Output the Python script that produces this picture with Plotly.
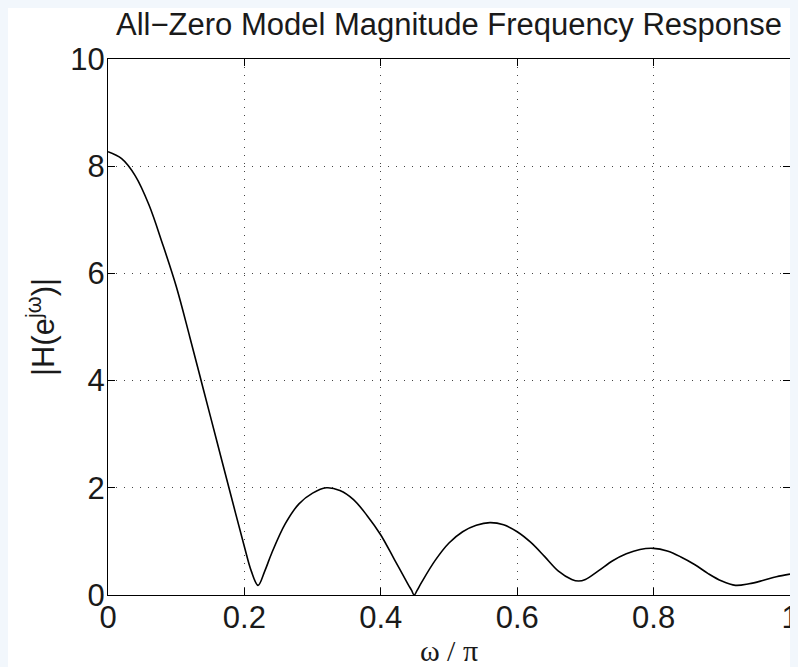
import plotly.graph_objects as go

# Normalized frequency (omega / pi) and magnitude |H(e^{jw})|
omega = [0.00, 0.02, 0.04, 0.06, 0.08, 0.10, 0.12, 0.14, 0.16, 0.18,
         0.20, 0.21, 0.22, 0.23, 0.24, 0.26, 0.28, 0.30, 0.32, 0.34,
         0.36, 0.38, 0.40, 0.42, 0.44, 0.445, 0.449, 0.453, 0.46, 0.48,
         0.50, 0.52, 0.54, 0.56, 0.58, 0.60, 0.62, 0.64, 0.66, 0.68,
         0.69, 0.70, 0.72, 0.74, 0.76, 0.78, 0.80, 0.82, 0.84, 0.86,
         0.88, 0.90, 0.92, 0.94, 0.96, 0.98, 1.00]
magnitude = [8.27, 8.14, 7.82, 7.28, 6.55, 5.76, 4.81, 3.83, 2.85, 1.87,
             0.90, 0.45, 0.18, 0.45, 0.78, 1.33, 1.70, 1.90, 2.00, 1.95,
             1.78, 1.48, 1.12, 0.66, 0.20, 0.09, 0.00, 0.08, 0.24, 0.65,
             0.97, 1.18, 1.30, 1.35, 1.31, 1.18, 0.98, 0.72, 0.45, 0.29,
             0.26, 0.29, 0.46, 0.64, 0.77, 0.85, 0.87, 0.82, 0.71, 0.57,
             0.40, 0.26, 0.18, 0.21, 0.27, 0.34, 0.39]

x_ticks = [0, 0.2, 0.4, 0.6, 0.8, 1]
x_tick_labels = ["0", "0.2", "0.4", "0.6", "0.8", "1"]
y_ticks = [0, 2, 4, 6, 8, 10]
y_tick_labels = ["0", "2", "4", "6", "8", "10"]

title_text = "All\u2212Zero Model Magnitude Frequency Response"
x_label = "\u03c9 / \u03c0"
y_label = "|H(e<sup>j\u03c9</sup>)|"

SANS = "Liberation Sans, Arial, Helvetica, sans-serif"
SERIF = "Liberation Serif, Times New Roman, serif"
TEXT = "#1a1a1a"
PAGE_BG = "#F2F7FC"

FIG_W, FIG_H = 790, 659

fig = go.Figure()
fig.add_trace(go.Scatter(
    x=omega, y=magnitude, mode="lines",
    line=dict(color="black", width=1.6, shape="spline", smoothing=1.0),
    hoverinfo="skip", showlegend=False,
))

axis_common = dict(
    showline=True, linecolor="black", linewidth=1.2, mirror="ticks",
    ticks="inside", ticklen=7, tickcolor="black", tickwidth=1,
    showgrid=True, gridcolor="#444444", gridwidth=1, griddash="1px,7px",
    zeroline=False, automargin=False, ticklabeloverflow="allow",
    tickfont=dict(family=SANS, size=31, color=TEXT),
)

fig.update_xaxes(
    range=[0, 1], tickvals=x_ticks, ticktext=x_tick_labels, ticklabelstandoff=-5,
    title=dict(text=x_label, font=dict(family=SERIF, size=30, color=TEXT), standoff=6),
    **axis_common,
)
fig.update_yaxes(
    range=[0, 10], tickvals=y_ticks, ticktext=y_tick_labels, ticklabelstandoff=-4,
    title=dict(text=y_label, font=dict(family=SANS, size=31, color=TEXT), standoff=6),
    **axis_common,
)

fig.update_layout(
    width=FIG_W, height=FIG_H,
    margin=dict(l=100, r=8, t=51, b=72),
    paper_bgcolor="white", plot_bgcolor="white",
    title=dict(text=title_text, x=0.5, xref="paper", xanchor="center",
               y=1 - 16 / FIG_H, yref="container", yanchor="middle", automargin=False,
               font=dict(family=SANS, size=31, color=TEXT)),
)

fig.write_html(
    "out.html",
    post_script="document.body.style.background='" + PAGE_BG + "';",
)
